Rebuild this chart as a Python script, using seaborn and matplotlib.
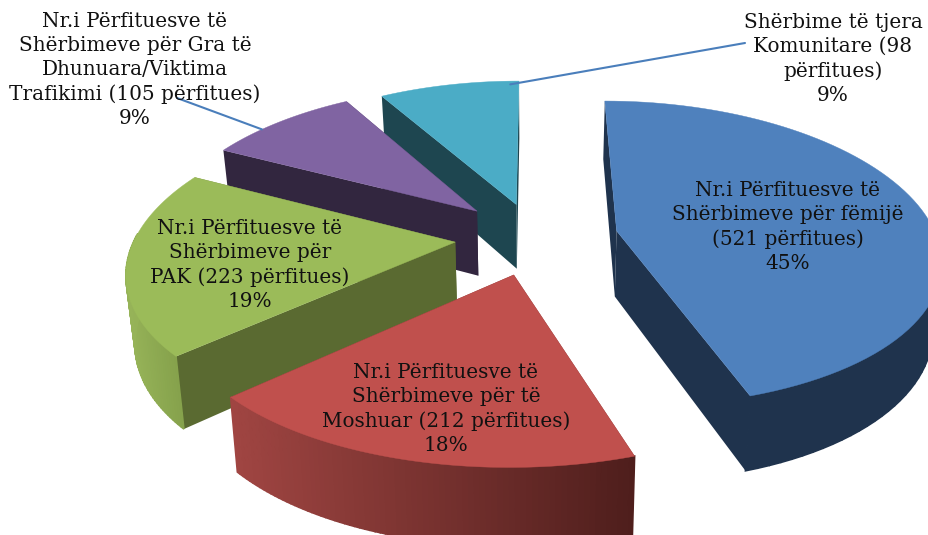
import numpy as np
import matplotlib
matplotlib.use("Agg")
import matplotlib.pyplot as plt
import seaborn as sns

values = [521, 212, 223, 105, 98]
percents = ["45%", "18%", "19%", "9%", "9%"]
labels = [
    "Nr.i Përfituesve të\nShërbimeve për fëmijë\n(521 përfitues)",
    "Nr.i Përfituesve të\nShërbimeve për të\nMoshuar (212 përfitues)",
    "Nr.i Përfituesve të\nShërbimeve për\nPAK (223 përfitues)",
    "Nr.i Përfituesve të\nShërbimeve për Gra të\nDhunuara/Viktima\nTrafikimi (105 përfitues)",
    "Shërbime të tjera\nKomunitare (98\npërfitues)",
]

top_colors = sns.color_palette(["#4F81BD", "#C0504D", "#9BBB59", "#8064A2", "#4BACC6"])
side_colors = ["#1F334D", "#52201E", "#5A6A31", "#32263F", "#1E4650"]
wall_left = ["#1F334D", "#A04542", "#96B358", "#32263F", "#1E4650"]
wall_right = ["#1F334D", "#4E1E1C", "#7F9B47", "#32263F", "#1E4650"]
explode = [0.26, 0.25, 0.25, 0.256, 0.23]
label_pos = [(788, 227), (446, 409), (250, 265), (135, 70), (833, 59)]

CX, CY = 535, 237


def project(x, y):
    sx = CX + x * 320 / (1 + 0.17 * y)
    sy = CY - 151 * y / (1 + 0.15 * y)
    return sx, sy


def lower(x, y):
    sx, sy = project(x, y)
    return CX + (sx - CX) * 0.978, sy + 66 / (1 + 0.13 * y)


def wedge_xy(a0, a1, off, n=80):
    ang = np.linspace(a0, a1, n)
    mid = (a0 + a1) / 2
    ox, oy = off * np.sin(mid), off * np.cos(mid)
    return ox, oy, ox + np.sin(ang), oy + np.cos(ang)


sns.set_theme(style="white")
fig = plt.figure(figsize=(9.29, 5.35), dpi=100)
ax = fig.add_axes([0, 0, 1, 1])
ax.set_xlim(0, 929)
ax.set_ylim(535, 0)
ax.axis("off")

shares = np.array(values) / sum(values)
edges = np.concatenate([[0], np.cumsum(shares)]) * 2 * np.pi

# painter's order, back slices first
for i in [4, 3, 2, 1, 0]:
    ox, oy, xs, ys = wedge_xy(edges[i], edges[i + 1], explode[i])
    for ex, ey in [(xs[0], ys[0]), (xs[-1], ys[-1])]:
        a, b = project(ox, oy), project(ex, ey)
        c, d = lower(ex, ey), lower(ox, oy)
        ax.fill(*zip(a, b, c, d), facecolor=side_colors[i], edgecolor="none", zorder=i * -3 + 20)

    top = np.array([project(x, y) for x, y in zip(xs, ys)])
    bot = np.array([lower(x, y) for x, y in zip(xs, ys)])
    lo, hi = top[:, 0].min(), top[:, 0].max()
    c0, c1 = np.array(matplotlib.colors.to_rgb(wall_left[i])), np.array(matplotlib.colors.to_rgb(wall_right[i]))
    for k in range(len(xs) - 1):
        # only the near part of the rim shows
        if ys[k] - oy > 0.05:
            continue
        t = ((top[k, 0] + top[k + 1, 0]) / 2 - lo) / (hi - lo)
        ax.fill(*zip(top[k], top[k + 1], bot[k + 1], bot[k]), color=c0 + (c1 - c0) * t,
                lw=1.2, zorder=i * -3 + 20)
    ax.fill(*zip(project(ox, oy), *top), color=top_colors[i], lw=0.3, zorder=i * -3 + 21)

# leader lines for the two outside labels
ox, oy, xs, ys = wedge_xy(edges[3], edges[4], explode[3])
ax.plot(*zip(project(xs[28], ys[28]), (177, 98)), color="#4A7EBB", lw=1.5, zorder=30)
ox, oy, xs, ys = wedge_xy(edges[4], edges[5], explode[4])
ax.plot(*zip(project(ox + 0.97 * (xs[74] - ox), oy + 0.97 * (ys[74] - oy)), (745, 43)),
        color="#4A7EBB", lw=1.5, zorder=30)

for text, pct, (tx, ty) in zip(labels, percents, label_pos):
    ax.text(tx, ty, text + "\n" + pct, ha="center", va="center", family="DejaVu Serif",
            fontsize=14.4, color="#111111", linespacing=1.33, zorder=40)

fig.savefig("out.png", dpi=100)
